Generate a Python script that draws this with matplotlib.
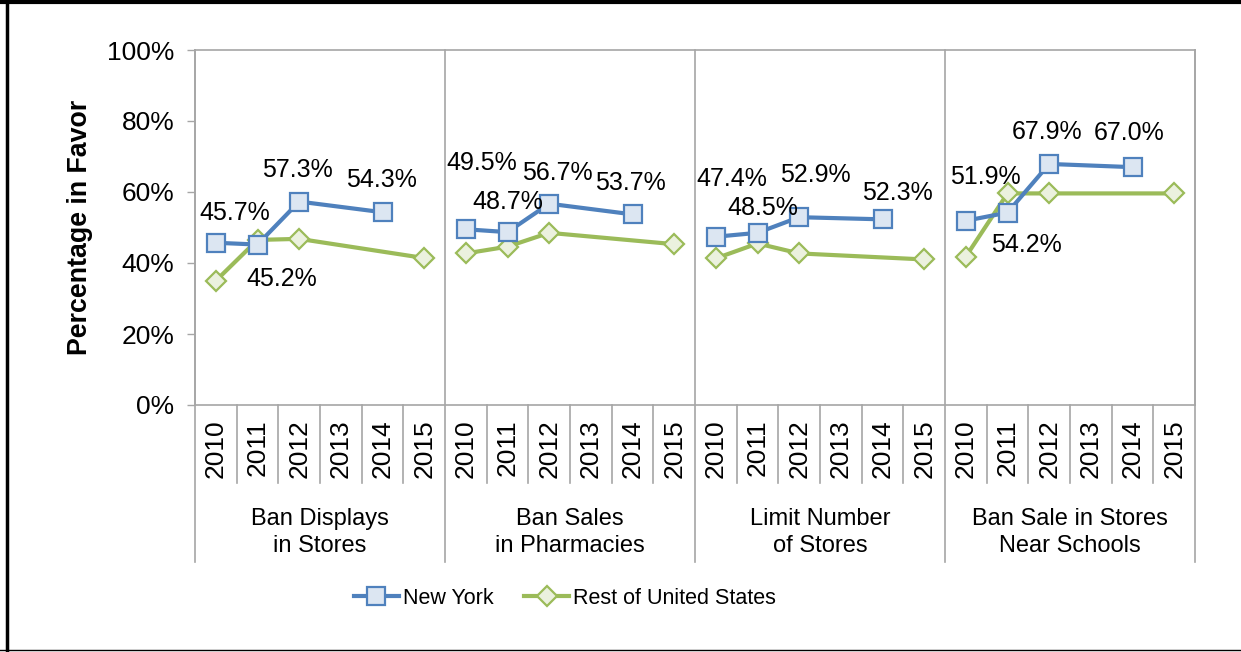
import numpy as np
import matplotlib.pyplot as plt
from matplotlib.lines import Line2D

plt.rcParams['font.family'] = ['Liberation Sans', 'DejaVu Sans']

# --- Colors ---
NY_LINE = "#4F81BD"
NY_FACE = "#DCE6F2"
US_LINE = "#9BBB59"
US_FACE = "#EBF1DE"
AXIS_GRAY = "#A6A6A6"

# --- Data ---
years = ["2010", "2011", "2012", "2013", "2014", "2015"]
policies = ["Ban Displays\nin Stores", "Ban Sales\nin Pharmacies",
            "Limit Number\nof Stores", "Ban Sale in Stores\nNear Schools"]

new_york = [
    [45.7, 45.2, 57.3, None, 54.3, None],
    [49.5, 48.7, 56.7, None, 53.7, None],
    [47.4, 48.5, 52.9, None, 52.3, None],
    [51.9, 54.2, 67.9, None, 67.0, None],
]
rest_of_us = [
    [35.0, 46.5, 46.8, None, None, 41.4],
    [42.7, 44.6, 48.5, None, None, 45.3],
    [41.3, 45.5, 42.7, None, None, 41.0],
    [41.8, 59.6, 59.6, None, None, 59.6],
]

# label offsets (pixels) for the New York data labels, per valid point
label_offsets = [
    [(19, 30), (24, -34), (-2, 32), (-1, 32)],
    [(16, 66), (0, 30), (8, 31), (-2, 31)],
    [(16, 58), (5, 25), (16, 42), (15, 26)],
    [(20, 44), (19, -32), (-2, 32), (-3, 34)],
]

W, H = 1241, 652
fig = plt.figure(figsize=(W / 100, H / 100), dpi=100)
ax = fig.add_axes([195 / W, 1 - 405 / H, 1000 / W, 355 / H])

n = len(years)
ny_handle = us_handle = None
for g in range(len(policies)):
    xs = np.arange(n) + g * n
    ny = np.array([np.nan if v is None else v for v in new_york[g]])
    us = np.array([np.nan if v is None else v for v in rest_of_us[g]])
    m1 = ~np.isnan(us)
    us_handle, = ax.plot(xs[m1], us[m1], color=US_LINE, lw=3, marker="D", ms=10,
                         mfc=US_FACE, mec=US_LINE, mew=1.6, zorder=3,
                         label="Rest of United States")
    m2 = ~np.isnan(ny)
    ny_handle, = ax.plot(xs[m2], ny[m2], color=NY_LINE, lw=3, marker="s", ms=13,
                         mfc=NY_FACE, mec=NY_LINE, mew=1.6, zorder=4,
                         label="New York")
    for (x, v), (dx, dy) in zip(zip(xs[m2], ny[m2]), label_offsets[g]):
        ax.annotate(f"{v:.1f}%", (x, v), xytext=(dx, dy), textcoords="offset pixels",
                    ha="center", va="center", fontsize=18, color="#000000", zorder=5)

ax.set_xlim(-0.5, len(policies) * n - 0.5)
ax.set_ylim(0, 100)
ax.set_yticks(range(0, 101, 20))
ax.set_yticklabels([f"{t}%" for t in range(0, 101, 20)], fontsize=19)
ax.tick_params(axis="y", length=6, color=AXIS_GRAY, width=1, pad=9)
ax.set_xticks(range(len(policies) * n))
ax.set_xticklabels(years * len(policies), rotation=90, fontsize=19)
ax.tick_params(axis="x", length=0, pad=10)
for s in ax.spines.values():
    s.set_color(AXIS_GRAY)
    s.set_linewidth(1.2)

ax.set_ylabel("Percentage in Favor", fontsize=19.3, fontweight="bold", labelpad=10)

# category separators (inside plot and below the axis)
trans = ax.get_xaxis_transform()
for k in range(len(policies) * n + 1):
    x = k - 0.5
    if k % n == 0:
        ax.plot([x, x], [-0.442, 1], color=AXIS_GRAY, lw=1.2, transform=trans,
                clip_on=False, zorder=1)
    else:
        ax.plot([x, x], [-0.22, 0], color=AXIS_GRAY, lw=1.2, transform=trans,
                clip_on=False, zorder=1)

for g, name in enumerate(policies):
    ax.text(g * n + (n - 1) / 2, -0.36, name, transform=trans, ha="center",
            va="center", fontsize=17, linespacing=1.3)

fig.legend(handles=[ny_handle, us_handle], loc="center", bbox_to_anchor=(565 / W, 1 - 598 / H),
           ncol=2, frameon=False, fontsize=15.5, handlelength=2.1, handletextpad=0.2,
           columnspacing=1.4)

# outer frame
fig.add_artist(Line2D([0, 1], [1 - 2 / H, 1 - 2 / H], color="black", lw=3, transform=fig.transFigure))
fig.add_artist(Line2D([6.5 / W, 6.5 / W], [0, 1], color="black", lw=2.5, transform=fig.transFigure))
fig.add_artist(Line2D([0, 1], [2 / H, 2 / H], color="black", lw=1, transform=fig.transFigure))

fig.savefig("out.png", dpi=100)
